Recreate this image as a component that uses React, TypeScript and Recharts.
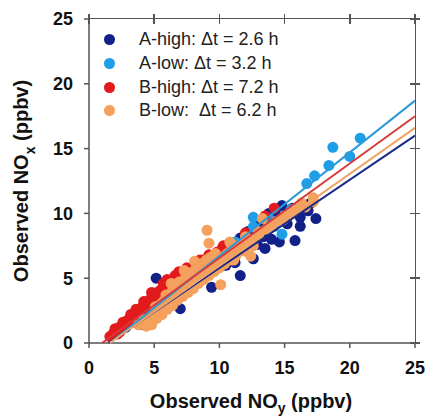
import React from "react";
import { ScatterChart, Scatter, XAxis, YAxis } from "recharts";

// observed NOy (x) vs NOx (y), ppbv
const aHigh: [number, number][] = [
  [5.15, 5.0], [7.0, 2.65], [4.2, 1.4], [9.4, 4.3], [11.6, 5.2], [6.35, 4.85],
  [17.4, 9.6], [16.2, 9.7], [16.2, 9.0], [15.8, 7.9], [14.6, 7.8], [14.0, 8.0],
  [13.5, 7.3], [12.6, 6.5], [14.8, 10.6], [13.8, 10.0], [14.3, 10.1], [12.9, 7.6],
  [11.8, 8.0], [10.8, 7.4], [15.2, 9.2], [16.8, 10.2], [13.0, 9.2], [12.2, 8.6],
  [10.5, 6.0], [8.0, 5.2], [6.0, 3.2], [5.5, 2.7], [3.5, 1.6], [2.8, 1.2],
  [9.8, 6.8], [15.6, 10.4], [17.0, 10.8], [13.4, 8.2], [11.2, 6.2], [11.6, 8.1],
  [11.4, 7.2],
];
const aLow: [number, number][] = [
  [16.7, 12.3], [17.3, 12.9], [18.4, 13.7], [18.7, 15.1], [20.0, 14.4], [20.8, 15.8],
  [12.6, 9.7], [12.6, 8.95], [14.8, 8.4], [10.2, 7.3], [6.6, 4.3], [9.0, 6.2],
  [11.2, 7.8], [13.8, 9.6], [15.5, 10.3], [14.2, 9.0], [7.8, 5.0], [4.8, 2.6],
];
const bHigh: [number, number][] = [
  [1.6, 0.5], [1.9, 0.8], [2.1, 1.0], [2.3, 1.2], [2.5, 1.3], [2.7, 1.5], [2.9, 1.7],
  [3.1, 1.9], [3.3, 2.0], [3.5, 2.2], [3.7, 2.4], [3.9, 2.5], [4.1, 2.8], [4.3, 3.0],
  [4.6, 3.3], [4.9, 3.6], [5.2, 3.9], [5.5, 4.1], [5.8, 4.5], [6.0, 4.9], [6.9, 5.5],
  [6.4, 4.6], [7.2, 5.0], [8.7, 6.4], [8.5, 6.4], [9.8, 7.0], [11.0, 7.2], [10.3, 7.5],
  [12.0, 8.5], [13.5, 9.8], [14.2, 10.4], [2.2, 0.7], [3.0, 1.5], [4.0, 2.2],
  [5.0, 3.2], [7.8, 5.6], [9.2, 6.8], [5.6, 4.1],
  [1.8, 0.6], [2.0, 1.1], [2.4, 0.9], [2.6, 1.6], [2.8, 1.3], [3.2, 2.2], [3.4, 1.8],
  [3.6, 2.6], [3.8, 2.1], [4.2, 3.2], [4.4, 2.6], [4.8, 3.9], [5.3, 3.5], [5.7, 4.6],
  [6.2, 4.2], [6.6, 5.2], [7.5, 5.8],
];
const bLow: [number, number][] = [
  [4.5, 1.6], [4.7, 2.0], [5.0, 2.3], [5.2, 2.6], [5.4, 2.9], [5.6, 3.1], [5.8, 3.3],
  [6.0, 3.6], [6.2, 3.8], [6.4, 4.0], [6.6, 4.2], [6.8, 4.4], [7.0, 4.6], [7.2, 4.8],
  [7.4, 5.0], [7.6, 5.2], [7.8, 5.4], [8.0, 5.5], [8.2, 5.7], [8.4, 5.9], [8.6, 6.1],
  [8.8, 6.2], [9.0, 6.4], [9.3, 6.6], [9.6, 6.8], [9.95, 6.5], [10.1, 4.5], [11.1, 6.4],
  [12.4, 6.7], [12.0, 8.2], [13.3, 9.6], [14.9, 9.5], [16.6, 10.5], [17.2, 10.9],
  [9.05, 8.7], [9.2, 7.7], [5.5, 2.5], [6.0, 3.0], [6.5, 3.5], [7.0, 4.0], [7.5, 4.4],
  [8.0, 4.8], [8.5, 5.2], [9.0, 5.6], [10.0, 6.2], [10.5, 6.6], [11.0, 7.0], [11.5, 7.4],
  [12.5, 8.0], [13.0, 8.3], [14.0, 9.0], [4.2, 1.8], [6.3, 4.6], [7.3, 5.6], [10.8, 7.8],
  [15.5, 10.0], [8.1, 6.3], [5.8, 2.7], [6.7, 3.3], [7.7, 4.2], [3.8, 1.4], [17.2, 11.2],
  [4.8, 1.4], [5.0, 2.0], [5.2, 1.9], [5.4, 2.4], [5.6, 2.2], [5.8, 2.9], [6.0, 2.6],
  [6.2, 3.3], [6.4, 2.9], [6.6, 3.6], [6.8, 3.3], [7.0, 3.9], [7.2, 3.6], [7.4, 4.3],
  [7.6, 3.9], [7.8, 4.6], [8.0, 4.2], [8.2, 5.0], [8.4, 4.6], [8.6, 5.3], [8.8, 4.9],
  [9.0, 5.7], [9.2, 5.2], [9.4, 6.0], [9.6, 5.5], [9.8, 6.3], [10.0, 5.8], [10.2, 6.6],
  [10.4, 6.1], [10.6, 6.9], [10.8, 6.4], [11.0, 7.2], [11.3, 6.8], [11.6, 7.6],
  [11.9, 7.1], [12.2, 7.9], [12.6, 7.5], [13.0, 8.6], [13.6, 8.8], [14.4, 9.4],
  [15.0, 9.8], [15.9, 10.3], [16.3, 10.8], [5.1, 2.8], [5.9, 3.7], [6.9, 4.7],
  [8.3, 5.9], [9.7, 6.9], [10.9, 7.6], [4.4, 1.3],
];

// regression lines: [x where NOx = 0, NOx at x = 25]
const fitStart = [1.5, 1.6, 1.0, 1.6];
const fitEnd = [16.0, 18.7, 17.5, 16.6];

const labels = ["A-high: Δt = 2.6 h", "A-low: Δt = 3.2 h", "B-high: Δt = 7.2 h", "B-low:  Δt = 6.2 h"];
const dotColors = ["#12208a", "#1f9ee8", "#e31a1c", "#f5a05c"];
const lineColors = ["#1a2a88", "#2d9ad8", "#d83a3a", "#f0a466"];
const ticks = [0, 5, 10, 15, 20, 25];
const axisMax = 25;

const series = [aHigh, aLow, bHigh, bLow].map((pts) => pts.map(([x, y]) => ({ x, y })));
const fits = fitStart.map((x0, i) => [
  { x: x0, y: 0 },
  { x: axisMax, y: fitEnd[i] },
]);

const W = 427;
const H = 417;
const margin = { top: 19, right: 12, bottom: 0, left: 0 };
const yAxisW = 89;
const xAxisH = 74;
const plotW = W - margin.left - margin.right - yAxisW;
const plotH = H - margin.top - margin.bottom - xAxisH;

const font = 'Arial, "Liberation Sans", sans-serif';
const axisColor = "#555";

const noShape = () => <g />;
const dot = (props: any) => <circle cx={props.cx} cy={props.cy} r={5.5} fill={props.fill} />;

const XTitle = () => (
  <text x={251} y={408} textAnchor="middle" fontFamily={font} fontWeight="bold" fontSize={20} fill="#111">
    Observed NO
    <tspan fontSize={14} dy={5}>y</tspan>
    <tspan dy={-5}> (ppbv)</tspan>
  </text>
);

const YTitle = () => (
  <text x={28} y={181} transform="rotate(-90, 28, 181)" textAnchor="middle" fontFamily={font} fontWeight="bold" fontSize={20} fill="#111">
    Observed NO
    <tspan fontSize={14} dy={7}>x</tspan>
    <tspan dy={-7}> (ppbv)</tspan>
  </text>
);

export default function App() {
  const tickStyle = { fontFamily: font, fontWeight: "bold", fontSize: 18, fill: "#111" };
  const left = margin.left + yAxisW;
  return (
    <div style={{ position: "absolute", left: 0, top: 0, width: W, height: H, background: "#fff" }}>
      <ScatterChart width={W} height={H} margin={margin}>
        <XAxis
          type="number"
          dataKey="x"
          domain={[0, axisMax]}
          ticks={ticks}
          height={xAxisH}
          tick={tickStyle}
          tickSize={5}
          tickMargin={13}
          stroke={axisColor}
          strokeWidth={1.5}
          label={<XTitle />}
        />
        <YAxis
          type="number"
          dataKey="y"
          domain={[0, axisMax]}
          ticks={ticks}
          width={yAxisW}
          tick={tickStyle}
          tickSize={5}
          tickMargin={11}
          stroke={axisColor}
          strokeWidth={1.5}
          label={<YTitle />}
        />
        {series.map((d, i) => (
          <Scatter key={`s${i}`} data={d} fill={dotColors[i]} shape={dot} isAnimationActive={false} />
        ))}
        {fits.map((d, i) => (
          <Scatter
            key={`f${i}`}
            data={d}
            line={{ stroke: lineColors[i], strokeWidth: 2 }}
            shape={noShape}
            isAnimationActive={false}
          />
        ))}
      </ScatterChart>
      {/* top and right frame of the plot box */}
      <div
        style={{
          position: "absolute",
          left,
          top: margin.top - 0.75,
          width: plotW + 0.75,
          height: plotH + 0.75,
          borderTop: `1.5px solid ${axisColor}`,
          borderRight: `1.5px solid ${axisColor}`,
          boxSizing: "border-box",
          pointerEvents: "none",
        }}
      />
      {ticks.map((t) => (
        <div
          key={`tt${t}`}
          style={{
            position: "absolute",
            left: left + (t / axisMax) * plotW - 0.75,
            top: margin.top - 5,
            width: 1.5,
            height: 10,
            background: axisColor,
          }}
        />
      ))}
      {ticks.map((t) => (
        <div
          key={`rt${t}`}
          style={{
            position: "absolute",
            left: left + plotW - 5,
            top: margin.top + plotH - (t / axisMax) * plotH - 0.75,
            width: 10,
            height: 1.5,
            background: axisColor,
          }}
        />
      ))}
      <div style={{ position: "absolute", left: 104, top: 28, fontFamily: font, fontSize: 18, color: "#222" }}>
        {labels.map((t, i) => (
          <div key={t} style={{ display: "flex", alignItems: "center", height: 23.7, whiteSpace: "pre" }}>
            <span style={{ width: 11, height: 11, borderRadius: 6, background: dotColors[i], marginRight: 24 }} />
            {t}
          </div>
        ))}
      </div>
    </div>
  );
}
